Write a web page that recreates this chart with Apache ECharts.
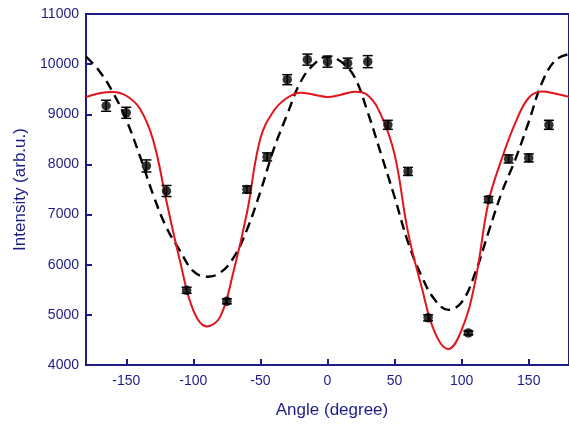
<!DOCTYPE html>
<html>
<head>
<meta charset="utf-8">
<script src="https://cdn.jsdelivr.net/npm/echarts@6/dist/echarts.min.js"></script>
<style>
  html, body { margin: 0; padding: 0; background: #fff; }
  #chart { width: 569px; height: 424px; }
</style>
</head>
<body>
<div id="chart"></div>
<script>
// Measured intensities (with their uncertainties) versus angle
const angles    = [-165, -150, -135, -120, -105, -75, -60, -45, -30, -15, 0, 15, 30, 45, 60, 75, 105, 120, 135, 150, 165];
const intensity = [9170, 9030, 7970, 7470, 5490, 5270, 7500, 8150, 9690, 10090, 10050, 10020, 10050, 8790, 7860, 4940, 4640, 7300, 8110, 8130, 8790];
const errors    = [110, 110, 120, 110, 60, 50, 70, 80, 100, 110, 110, 100, 120, 90, 80, 60, 40, 60, 80, 80, 90];

// Model curves sampled every 10 degrees
const curveAngles = [-180, -170, -160, -150, -140, -130, -120, -110, -100, -90, -80, -70, -60, -50, -40, -30, -20, -10, 0,
                     10, 20, 30, 40, 50, 60, 70, 80, 90, 100, 110, 120, 130, 140, 150, 160, 170, 180];
const fitSolid  = [9345, 9420, 9445, 9370, 9120, 8490, 7260, 6080, 5090, 4770, 4960, 5870, 7040, 8520, 9070, 9330, 9430, 9390, 9345,
                   9390, 9450, 9380, 8980, 8200, 6650, 5570, 4650, 4320, 4700, 5650, 7250, 8120, 8830, 9330, 9455, 9410, 9350];
const fitDashed = [10150, 9860, 9440, 8890, 8180, 7400, 6740, 6280, 5870, 5760, 5840, 6140, 6700, 7460, 8310, 9000, 9650, 10000, 10150,
                   10050, 9750, 9040, 8200, 7350, 6450, 5780, 5300, 5100, 5250, 5830, 6650, 7450, 8100, 8850, 9640, 10080, 10200];

const xTicks = [-150, -100, -50, 0, 50, 100, 150];

const navy = '#1c1c86';
const font = 'Liberation Sans, Arial, sans-serif';

const chart = echarts.init(document.getElementById('chart'), null, { renderer: 'canvas' });

chart.setOption({
  animation: false,
  backgroundColor: '#fff',
  grid: {
    left: 86, right: -8, top: 14, bottom: 58,
    show: true, borderColor: navy, borderWidth: 2, backgroundColor: 'transparent'
  },
  xAxis: {
    type: 'value', min: -180, max: 180,
    name: 'Angle (degree)', nameLocation: 'middle', nameGap: 37,
    nameTextStyle: { color: navy, fontSize: 17, fontFamily: font, padding: [0, 0, 0, 9] },
    axisLine: { show: true, onZero: false, lineStyle: { color: navy, width: 2 } },
    axisTick: { show: true, inside: true, length: 6, customValues: xTicks, lineStyle: { color: navy, width: 2 } },
    axisLabel: { customValues: xTicks, color: navy, fontSize: 14, fontFamily: font, margin: 9 },
    splitLine: { show: false }
  },
  yAxis: {
    type: 'value', min: 4000, max: 11000, interval: 1000,
    name: 'Intensity (arb.u.)', nameLocation: 'middle', nameGap: 48,
    nameTextStyle: { color: navy, fontSize: 17, fontFamily: font },
    axisLine: { show: true, onZero: false, lineStyle: { color: navy, width: 2 } },
    axisTick: { show: true, inside: true, length: 6, lineStyle: { color: navy, width: 2 } },
    axisLabel: { color: navy, fontSize: 14, fontFamily: font, margin: 7, formatter: v => String(v) },
    splitLine: { show: false }
  },
  series: [
    {
      name: 'dashed fit', type: 'line', smooth: 0.4, showSymbol: false, z: 2,
      data: curveAngles.map((a, i) => [a, fitDashed[i]]),
      lineStyle: { color: '#000', width: 2.4, type: [10, 6] }
    },
    {
      name: 'solid fit', type: 'line', smooth: 0.4, showSymbol: false, z: 3,
      data: curveAngles.map((a, i) => [a, fitSolid[i]]),
      lineStyle: { color: '#e3141b', width: 2 }
    },
    {
      name: 'error bars', type: 'custom', z: 4,
      data: angles.map((a, i) => [a, intensity[i] - errors[i], intensity[i] + errors[i]]),
      encode: { x: 0, y: [1, 2] },
      renderItem: function (params, api) {
        const x = api.value(0);
        const top = api.coord([x, api.value(2)]);
        const bot = api.coord([x, api.value(1)]);
        const w = 5;
        const style = { stroke: '#000', lineWidth: 1.5 };
        return {
          type: 'group',
          children: [
            { type: 'line', shape: { x1: top[0], y1: top[1], x2: bot[0], y2: bot[1] }, style: style },
            { type: 'line', shape: { x1: top[0] - w, y1: top[1], x2: top[0] + w, y2: top[1] }, style: style },
            { type: 'line', shape: { x1: bot[0] - w, y1: bot[1], x2: bot[0] + w, y2: bot[1] }, style: style }
          ]
        };
      }
    },
    {
      name: 'measured', type: 'scatter', z: 5,
      symbol: 'circle', symbolSize: 9.5,
      data: angles.map((a, i) => [a, intensity[i]]),
      itemStyle: { color: '#000' }
    }
  ]
});
</script>
</body>
</html>
